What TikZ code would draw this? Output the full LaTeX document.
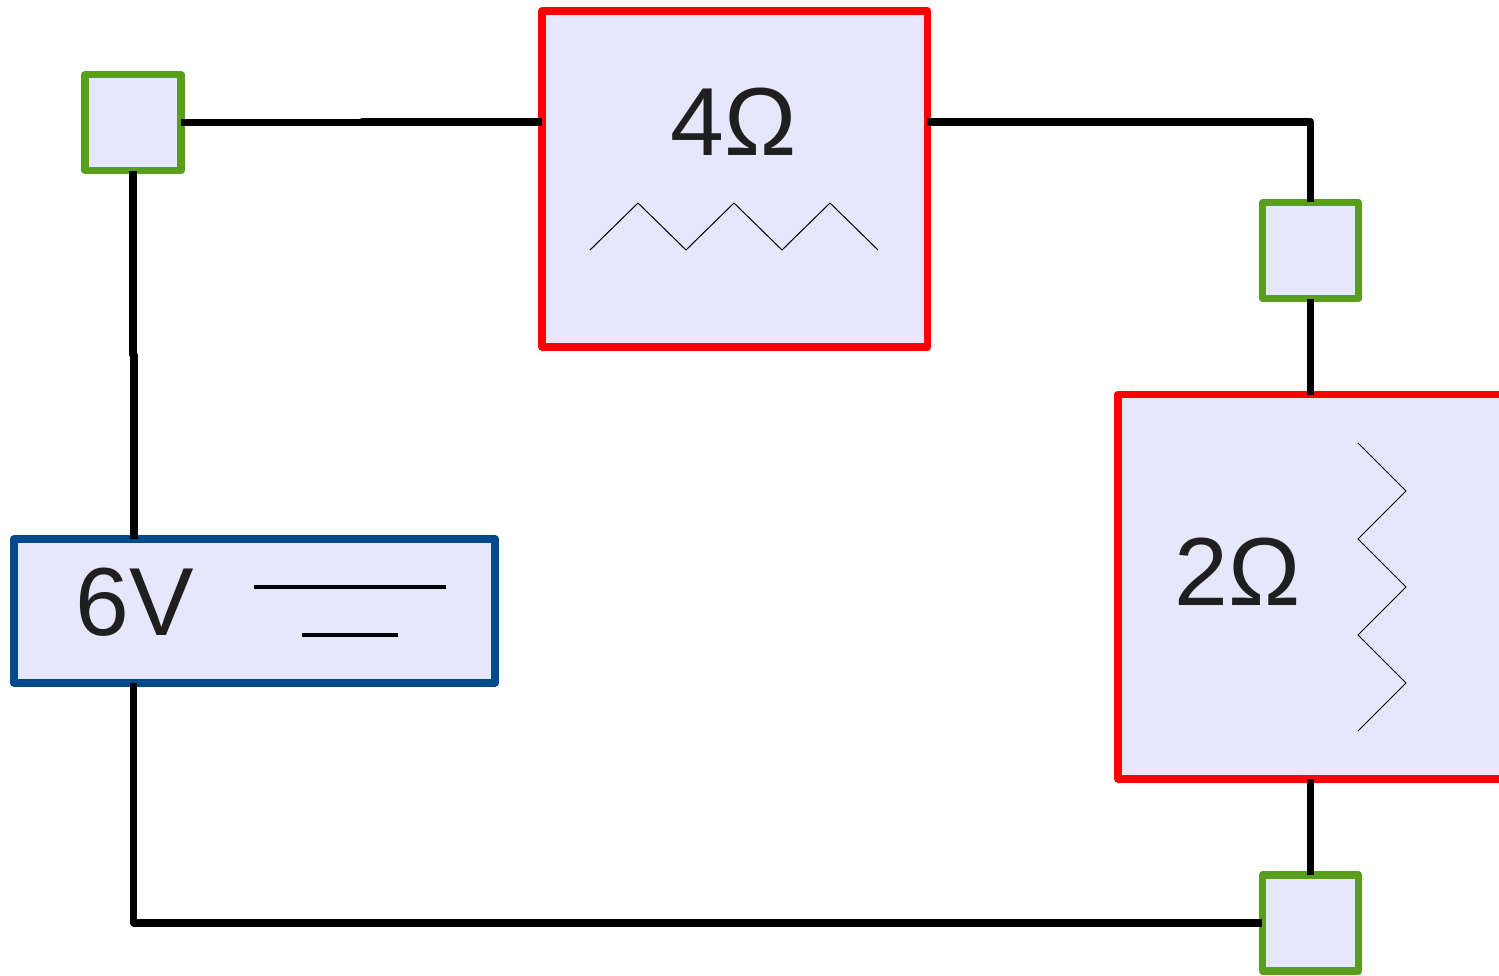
\documentclass[tikz,border=0pt]{standalone}
\usepackage{fontspec}
\setmainfont{Liberation Sans}
\usetikzlibrary{positioning}
\definecolor{boxfill}{HTML}{E6E6FC}
\definecolor{jointgreen}{HTML}{5A9E1E}
\definecolor{batteryblue}{HTML}{004A8C}
\definecolor{labelgray}{HTML}{1F1F1F}

\begin{document}
\begin{tikzpicture}[
    x=0.01cm, y=-0.01cm,
    joint/.style={draw=jointgreen, fill=boxfill, line width=0.075cm, line join=round,
    outer sep=0pt, inner sep=0pt, minimum height=0.96cm, minimum width=0.96cm},
    resistor/.style={draw=red, fill=boxfill, line width=0.075cm, line join=round,
    outer sep=0pt, inner sep=0pt, minimum height=3.36cm, minimum width=3.85cm},
    battery/.style={draw=batteryblue, fill=boxfill, line width=0.075cm, line join=round,
    outer sep=0pt, inner sep=0pt, minimum height=1.44cm, minimum width=4.81cm},
    value/.style={draw=none, text=labelgray, inner sep=0pt,
    font=\fontsize{27.5pt}{33pt}\selectfont},
    wire/.style={draw=black, line width=0.075cm, line join=round},
    plate/.style={draw=black, line width=0.04cm},
    zigzag/.style={draw=black, line width=0.01cm}
    ]
    \useasboundingbox (0,0) rectangle (1499,976);

    \node[joint]    (jA)  at (133,122.5)                          {};
    \node[resistor] (r1)  [right=3.61cm of jA, yshift=-0.565cm]   {};
    \node[joint]    (jB)  at (1310.5,250.5)                       {};
    \node[resistor, minimum height=3.84cm] (r2) [below=0.96cm of jB] {};
    \node[joint]    (jC)  [below=0.96cm of r2]                    {};
    \node[battery]  (bat) at (254.5,611)                          {};

    \node[value]    (v1)  at (733.5,122)                          {4\char"03A9};
    \node[value]    (v2)  at (1238,572)                           {2\char"03A9};
    \node[value]    (v3)  at (134.5,602)                          {6V};

    % zigzags and plates
    \draw[zigzag] (590,250) -- (638,203) -- (686,250) -- (734,203) -- (782,250) -- (830,203) -- (878,250);
    \draw[zigzag] (1358,443) -- (1406,491) -- (1358,539) -- (1406,587) -- (1358,635) -- (1406,683) -- (1358,731);
    \draw[plate]  (254,587) -- (446,587);
    \draw[plate]  (302,635) -- (398,635);

    \coordinate (kinkT) at (362,122.5);
    \coordinate (kinkL) at (133,355);

    \draw[wire] (jA.east) -- (kinkT) -- (362,122) -- (r1.west |- 0,122);
    \draw[wire] (r1.east |- 0,122) -- (jB |- 0,122) -- (jB.north);
    \draw[wire] (jB.south) -- (r2.north);
    \draw[wire] (r2.south) -- (jC.north);
    \draw[wire] (jA.south) -- (kinkL) -- (134,355) -- (134,539);
    \draw[wire] (133.5,683) |- (jC.west);
  \end{tikzpicture}
\end{document}
